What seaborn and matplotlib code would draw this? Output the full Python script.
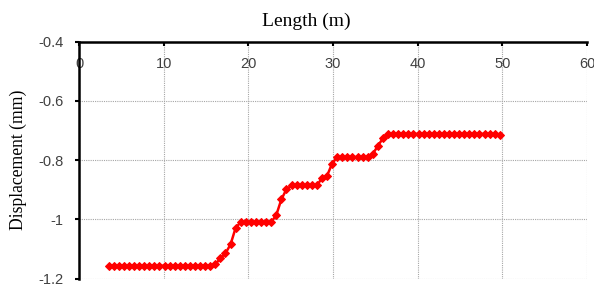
import matplotlib
matplotlib.use("Agg")
import matplotlib.pyplot as plt
import seaborn as sns
import pandas as pd
from matplotlib.ticker import FuncFormatter

# Data
length_m = [3.5, 4.1, 4.7, 5.3, 5.9, 6.5, 7.1, 7.7, 8.3, 8.9,
            9.5, 10.1, 10.7, 11.3, 11.9, 12.5, 13.1, 13.7, 14.3, 14.9,
            15.5, 16.1, 16.7, 17.3, 17.9, 18.5, 19.1, 19.7, 20.3, 20.9,
            21.5, 22.1, 22.7, 23.3, 23.9, 24.5, 25.1, 25.7, 26.3, 26.9,
            27.5, 28.1, 28.7, 29.3, 29.9, 30.5, 31.1, 31.7, 32.3, 32.9,
            33.5, 34.1, 34.7, 35.3, 35.9, 36.5, 37.1, 37.7, 38.3, 38.9,
            39.5, 40.1, 40.7, 41.3, 41.9, 42.5, 43.1, 43.7, 44.3, 44.9,
            45.5, 46.1, 46.7, 47.3, 47.9, 48.5, 49.1, 49.7]
displacement_mm = ([-1.157] * 21
                   + [-1.152, -1.132, -1.115, -1.085, -1.029]
                   + [-1.010] * 7
                   + [-0.986, -0.933, -0.899]
                   + [-0.886] * 6
                   + [-0.861, -0.853, -0.812]
                   + [-0.790] * 7
                   + [-0.780, -0.752, -0.727]
                   + [-0.712] * 22
                   + [-0.716])
x_ticks = [0, 10, 20, 30, 40, 50, 60]
y_ticks = [-1.2, -1.0, -0.8, -0.6, -0.4]

df = pd.DataFrame({"Length (m)": length_m, "Displacement (mm)": displacement_mm})

sns.set_style("white")
plt.rcParams["axes.unicode_minus"] = False
plt.rcParams["font.family"] = ["Liberation Sans", "DejaVu Sans"]

fig = plt.figure(figsize=(5.94, 2.89), dpi=100)
ax = fig.add_axes([79 / 594, 1 - 278.5 / 289, (587 - 79) / 594, (278.5 - 41.5) / 289])

sns.lineplot(data=df, x="Length (m)", y="Displacement (mm)", ax=ax,
             color="#FF0000", linewidth=1.8, marker="D", markersize=3.8,
             markeredgecolor="#FF0000", markerfacecolor="#FF0000", zorder=5)

ax.set_xlim(0, 60)
ax.set_ylim(-1.2, -0.4)
ax.set_xticks(x_ticks)
ax.set_yticks(y_ticks)
ax.yaxis.set_major_formatter(FuncFormatter(lambda v, p: "%g" % round(v, 2)))

ax.grid(True, color="#A6A6A6", linestyle=(0, (1, 1)), linewidth=0.8)
ax.set_axisbelow(True)

for s in ["right", "bottom"]:
    ax.spines[s].set_visible(False)
for s in ["left", "top"]:
    ax.spines[s].set_visible(True)
    ax.spines[s].set_color("black")
    ax.spines[s].set_linewidth(1.8)

ax.tick_params(axis="x", which="both", top=True, bottom=False, labeltop=True,
               labelbottom=False, direction="in", length=3, width=1.5,
               pad=-21.5, labelsize=10.5, labelcolor="#404040", color="black")
ax.tick_params(axis="y", which="both", left=True, right=False, direction="out",
               length=3, width=1.5, pad=8, labelsize=10.5, labelcolor="#404040",
               color="black")

ax.xaxis.set_label_position("top")
ax.set_xlabel("Length (m)", family="Liberation Serif", fontsize=14,
              color="black", labelpad=11, x=(306 - 79) / 508)
ax.set_ylabel("Displacement (mm)", family="Liberation Serif", fontsize=12.7,
              color="black", labelpad=8)

fig.savefig("out.png", dpi=100)
